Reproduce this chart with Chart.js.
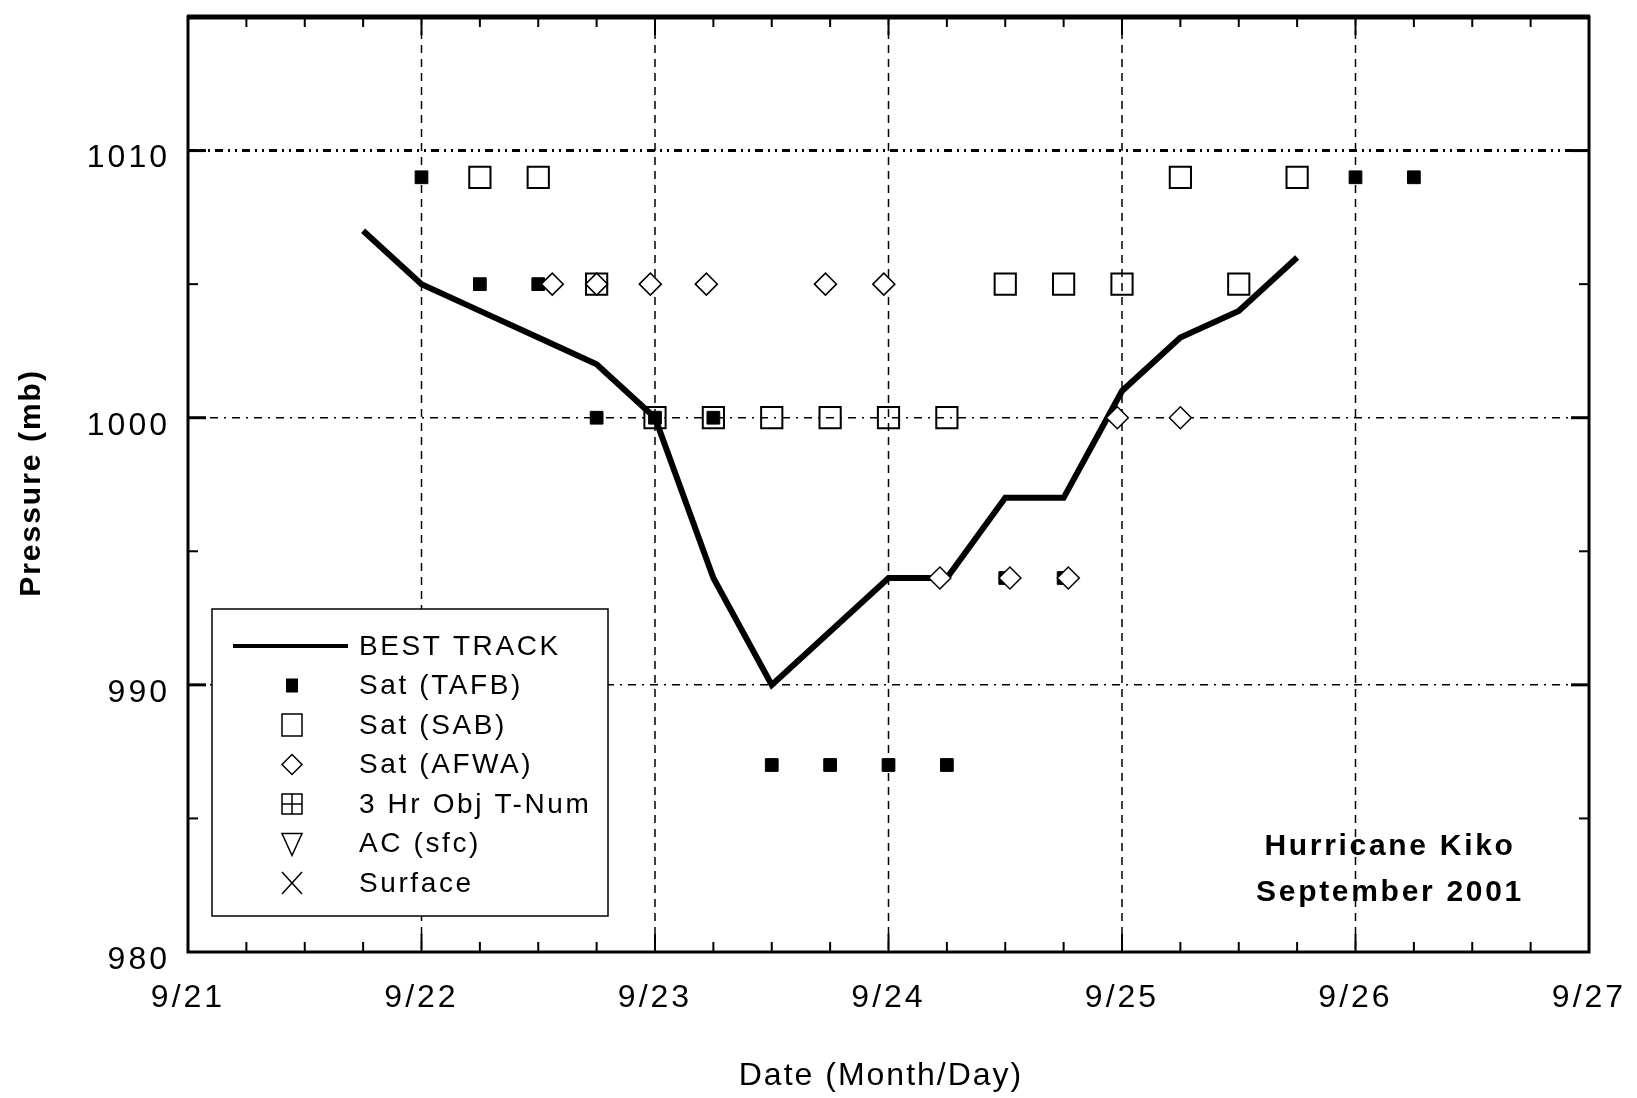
<!DOCTYPE html>
<html>
<head>
<meta charset="utf-8">
<title>Hurricane Kiko - September 2001</title>
<script src="https://cdn.jsdelivr.net/npm/chart.js@4.4.1/dist/chart.umd.min.js"></script>
<style>
  html, body { margin: 0; padding: 0; background: #fff; }
  #kiko { display: block; }
</style>
</head>
<body>
<canvas id="kiko" width="1637" height="1098"></canvas>
<script>
"use strict";

// x values are days after 9/21 00Z
const dayLabels = ["9/21", "9/22", "9/23", "9/24", "9/25", "9/26", "9/27"];
const pressureTicks = [980, 990, 1000, 1010];

const bestTrackTime = [0.75, 1.0, 1.25, 1.5, 1.75, 2.0, 2.25, 2.5, 2.75, 3.0, 3.25, 3.5, 3.75, 4.0, 4.25, 4.5, 4.75];
const bestTrackPressure = [1007, 1005, 1004, 1003, 1002, 1000, 994, 990, 992, 994, 994, 997, 997, 1001, 1003, 1004, 1006];

const tafbTime = [1.0, 1.25, 1.5, 1.75, 2.0, 2.25, 2.5, 2.75, 3.0, 3.25, 3.5, 3.75, 5.0, 5.25];
const tafbPressure = [1009, 1005, 1005, 1000, 1000, 1000, 987, 987, 987, 987, 994, 994, 1009, 1009];

const sabTime = [1.25, 1.5, 1.75, 2.0, 2.25, 2.5, 2.75, 3.0, 3.25, 3.5, 3.75, 4.0, 4.25, 4.5, 4.75];
const sabPressure = [1009, 1009, 1005, 1000, 1000, 1000, 1000, 1000, 1000, 1005, 1005, 1005, 1009, 1005, 1009];

const afwaTime = [1.56, 1.75, 1.98, 2.22, 2.73, 2.98, 3.22, 3.52, 3.77, 3.98, 4.25];
const afwaPressure = [1005, 1005, 1005, 1005, 1005, 1005, 994, 994, 994, 1000, 1000];

const FONT = "'Liberation Sans', Arial, sans-serif";

function pts(xs, ys) {
  return xs.map((v, i) => ({ x: v, y: ys[i] }));
}

function seg(ctx, x1, y1, x2, y2) {
  ctx.beginPath();
  ctx.moveTo(x1, y1);
  ctx.lineTo(x2, y2);
  ctx.stroke();
}

// legend symbols, drawn by hand since chart.js has no boxed-plus marker
function drawMarker(ctx, kind, cx, cy) {
  ctx.save();
  ctx.setLineDash([]);
  ctx.strokeStyle = "#000";
  ctx.fillStyle = "#000";
  ctx.lineWidth = 1.5;
  switch (kind) {
    case "line":
      ctx.lineWidth = 4;
      seg(ctx, cx - 59, cy, cx + 56, cy);
      break;
    case "fill":
      ctx.fillRect(cx - 6, cy - 7, 12, 14);
      break;
    case "open":
      ctx.strokeRect(cx - 10, cy - 11, 20, 22);
      break;
    case "diamond":
      ctx.beginPath();
      ctx.moveTo(cx, cy - 10);
      ctx.lineTo(cx + 10, cy);
      ctx.lineTo(cx, cy + 10);
      ctx.lineTo(cx - 10, cy);
      ctx.closePath();
      ctx.stroke();
      break;
    case "plus":
      ctx.strokeRect(cx - 10, cy - 10, 20, 20);
      seg(ctx, cx, cy - 10, cx, cy + 10);
      seg(ctx, cx - 10, cy, cx + 10, cy);
      break;
    case "down":
      ctx.beginPath();
      ctx.moveTo(cx - 10, cy - 10);
      ctx.lineTo(cx + 10, cy - 10);
      ctx.lineTo(cx, cy + 12);
      ctx.closePath();
      ctx.stroke();
      break;
    case "cross":
      seg(ctx, cx - 10, cy - 11, cx + 10, cy + 11);
      seg(ctx, cx + 10, cy - 11, cx - 10, cy + 11);
      break;
  }
  ctx.restore();
}

const framePlugin = {
  id: "frame",
  beforeDraw(chart) {
    chart.ctx.letterSpacing = "3px";
  },
  beforeDatasetsDraw(chart) {
    const { ctx, chartArea: a, scales: { x, y } } = chart;
    ctx.save();
    ctx.strokeStyle = "#000";

    // day grid lines
    ctx.lineWidth = 1.5;
    ctx.setLineDash([8, 6]);
    for (let d = 1; d < dayLabels.length - 1; d++) {
      const px = x.getPixelForValue(d);
      seg(ctx, px, a.top, px, a.bottom);
    }
    // pressure grid lines
    pressureTicks.slice(1).forEach(v => {
      const py = y.getPixelForValue(v);
      if (v === 1010) {
        ctx.lineWidth = 3;
        ctx.setLineDash([8, 5, 2, 5, 2, 5]);
      } else {
        ctx.lineWidth = 1.5;
        ctx.setLineDash([8, 6, 2, 6]);
      }
      seg(ctx, a.left, py, a.right, py);
    });

    // tick marks, inside on all four sides
    ctx.setLineDash([]);
    ctx.lineWidth = 2;
    for (let q = 1; q < (dayLabels.length - 1) * 4; q++) {
      const px = x.getPixelForValue(q / 4);
      const len = q % 4 === 0 ? 18 : 10;
      seg(ctx, px, a.bottom, px, a.bottom - len);
      seg(ctx, px, a.top, px, a.top + len);
    }
    for (let v = 985; v < 1015; v += 5) {
      const py = y.getPixelForValue(v);
      const len = v % 10 === 0 ? 18 : 10;
      ctx.lineWidth = v % 10 === 0 ? 3 : 2;
      seg(ctx, a.left, py, a.left + len, py);
      seg(ctx, a.right, py, a.right - len, py);
    }

    // frame
    ctx.lineWidth = 3;
    ctx.strokeRect(a.left, a.top, a.right - a.left, a.bottom - a.top);
    ctx.lineWidth = 5;
    seg(ctx, a.left - 1, a.top, a.right + 1, a.top);
    ctx.restore();
  },
  afterDatasetsDraw(chart) {
    const { ctx } = chart;
    ctx.save();
    ctx.setLineDash([]);

    // legend box
    ctx.fillStyle = "#fff";
    ctx.fillRect(212, 609, 396, 307);
    ctx.strokeStyle = "#000";
    ctx.lineWidth = 1.5;
    ctx.strokeRect(212, 609, 396, 307);

    ctx.font = "28px " + FONT;
    ctx.letterSpacing = "2.6px";
    ctx.textAlign = "left";
    ctx.textBaseline = "middle";
    chart.data.datasets.forEach((ds, i) => {
      const cy = 646 + i * 39.5;
      drawMarker(ctx, ds.legendMarker, 292, cy);
      ctx.fillStyle = "#000";
      ctx.fillText(ds.label, 359, cy + 1);
    });

    // storm name
    ctx.font = "bold 30px " + FONT;
    ctx.letterSpacing = "2.7px";
    ctx.textAlign = "center";
    ctx.fillText("Hurricane Kiko", 1390, 847);
    ctx.fillText("September 2001", 1390, 893);

    // axis titles
    ctx.font = "32px " + FONT;
    ctx.letterSpacing = "2px";
    ctx.fillText("Date (Month/Day)", 881, 1076);

    ctx.translate(32, 483);
    ctx.rotate(-Math.PI / 2);
    ctx.font = "bold 30px " + FONT;
    ctx.fillText("Pressure (mb)", 0, 0);
    ctx.restore();
  }
};

new Chart(document.getElementById("kiko"), {
  type: "scatter",
  data: {
    datasets: [
      {
        label: "BEST TRACK",
        legendMarker: "line",
        data: pts(bestTrackTime, bestTrackPressure),
        showLine: true,
        borderColor: "#000",
        borderWidth: 6,
        pointRadius: 0,
        order: 4
      },
      {
        label: "Sat (TAFB)",
        legendMarker: "fill",
        data: pts(tafbTime, tafbPressure),
        pointStyle: "rect",
        pointRadius: 9,
        backgroundColor: "#000",
        borderColor: "#000",
        borderWidth: 1,
        order: 3
      },
      {
        label: "Sat (SAB)",
        legendMarker: "open",
        data: pts(sabTime, sabPressure),
        pointStyle: "rect",
        pointRadius: 15,
        backgroundColor: "rgba(0,0,0,0)",
        borderColor: "#000",
        borderWidth: 2,
        order: 2
      },
      {
        label: "Sat (AFWA)",
        legendMarker: "diamond",
        data: pts(afwaTime, afwaPressure),
        pointStyle: "rectRot",
        pointRadius: 11,
        backgroundColor: "#fff",
        borderColor: "#000",
        borderWidth: 1.5,
        order: 1
      },
      { label: "3 Hr Obj T-Num", legendMarker: "plus", data: [] },
      { label: "AC (sfc)", legendMarker: "down", data: [] },
      { label: "Surface", legendMarker: "cross", data: [] }
    ]
  },
  options: {
    responsive: false,
    animation: false,
    events: [],
    layout: { padding: { top: 12, right: 48, left: 0, bottom: 0 } },
    plugins: {
      legend: { display: false },
      tooltip: { enabled: false }
    },
    scales: {
      x: {
        type: "linear",
        min: 0,
        max: 6,
        grid: { display: false, drawTicks: false },
        border: { display: false },
        afterBuildTicks: s => { s.ticks = dayLabels.map((_, i) => ({ value: i })); },
        afterFit: s => {
          s.height = 146;
          s.paddingLeft = 0;
          s.paddingRight = 0;
        },
        ticks: {
          autoSkip: false,
          maxRotation: 0,
          padding: 27,
          color: "#000",
          font: { family: FONT, size: 32 },
          callback: v => dayLabels[v]
        }
      },
      y: {
        type: "linear",
        min: 980,
        max: 1015,
        grid: { display: false, drawTicks: false },
        border: { display: false },
        afterBuildTicks: s => { s.ticks = pressureTicks.map(v => ({ value: v })); },
        afterFit: s => {
          s.width = 188;
          s.paddingTop = 0;
          s.paddingBottom = 0;
        },
        ticks: {
          padding: 18,
          labelOffset: 8,
          color: "#000",
          // tiny line height keeps the top label from pushing the plot down
          font: { family: FONT, size: 32, lineHeight: 0.2 },
          callback: v => String(v)
        }
      }
    }
  },
  plugins: [framePlugin]
});
</script>
</body>
</html>
